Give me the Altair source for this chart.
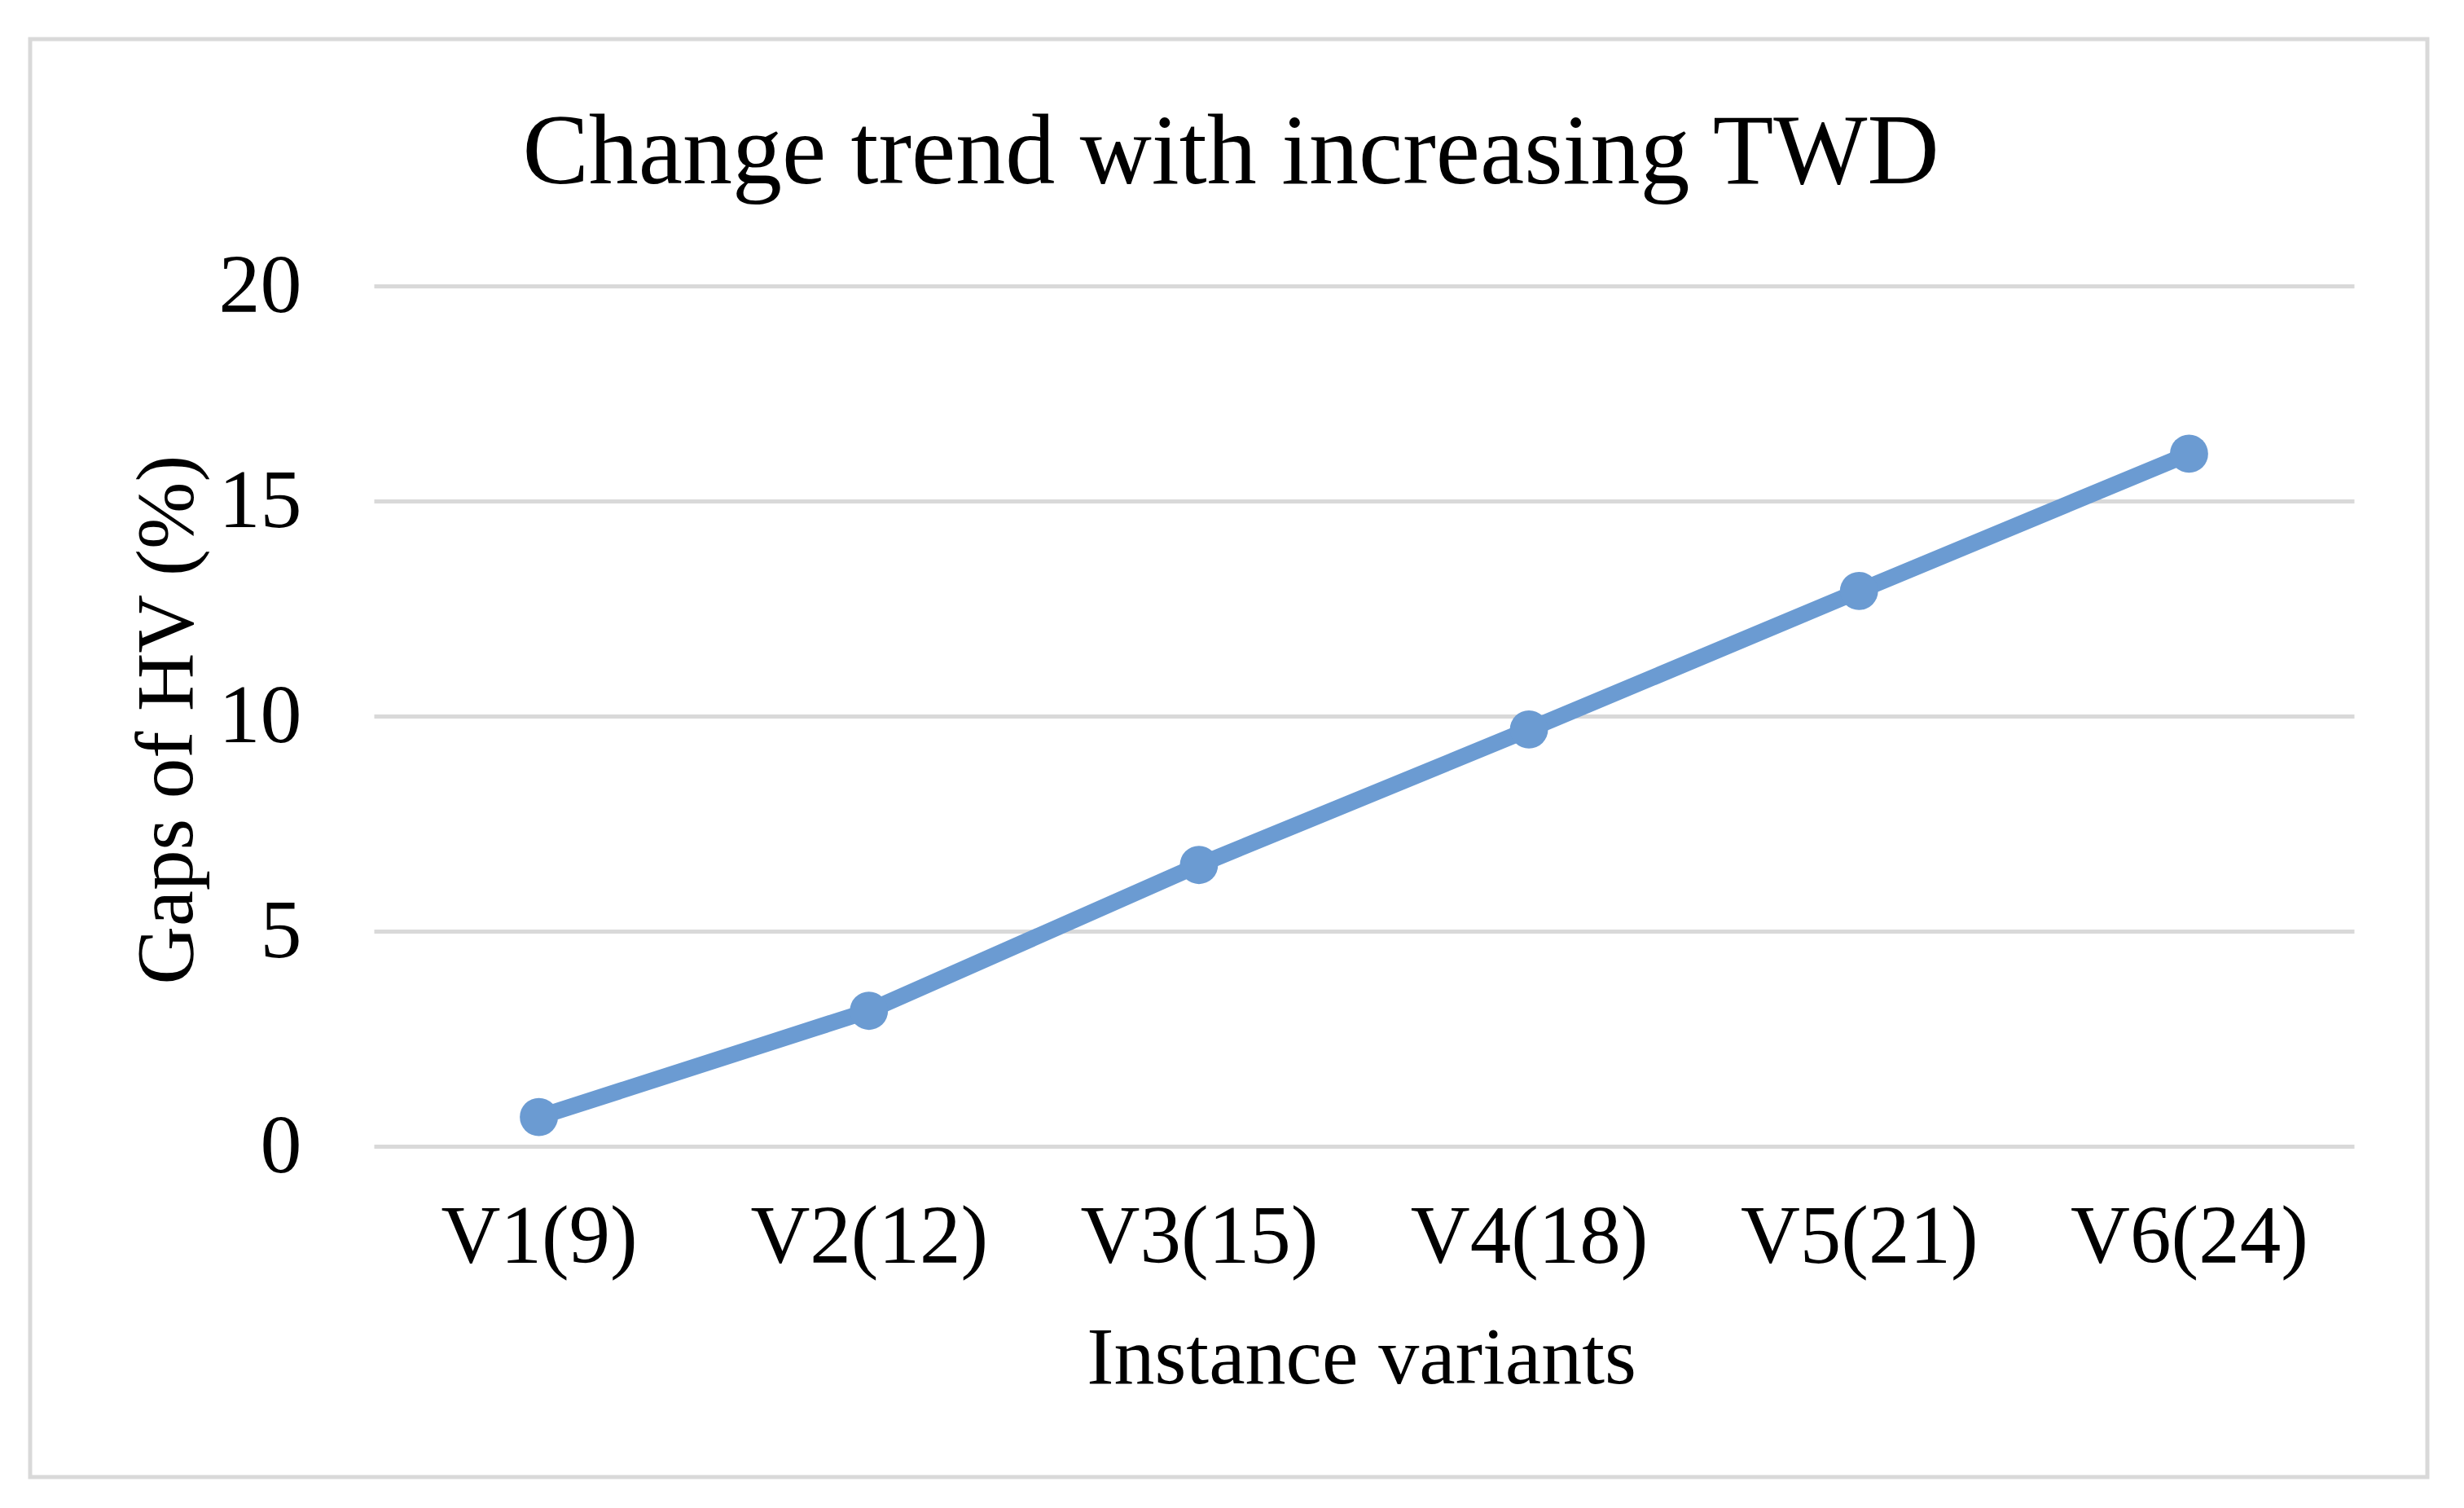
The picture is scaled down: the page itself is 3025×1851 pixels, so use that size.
import altair as alt
import pandas as pd

categories = ["V1(9)", "V2(12)", "V3(15)", "V4(18)", "V5(21)", "V6(24)"]
gaps = [0.68, 3.15, 6.54, 9.69, 12.91, 16.10]
y_ticks = [0, 5, 10, 15, 20]
title_text = ["Change trend with increasing TWD"]

df = pd.DataFrame({"variant": categories, "gap": gaps})

FONT = "Liberation Serif"
BLUE = "#6b9bd2"
GRID = "#d9d9d9"

x_enc = alt.X(
    "variant:N",
    sort=categories,
    scale=alt.Scale(type="point", padding=0.5),
    axis=alt.Axis(
        title="Instance variants",
        labelAngle=0,
        labelFont=FONT,
        labelFontSize=101,
        labelColor="#000000",
        labelBaseline="alphabetic",
        labelPadding=142,
        labelLimit=0,
        labelOverlap=False,
        ticks=False,
        tickSize=0,
        domain=False,
        grid=False,
        titleFont=FONT,
        titleFontSize=100,
        titleFontWeight="normal",
        titleColor="#000000",
        titleBaseline="alphabetic",
        titleX=1212,
        titleY=290,
        titleAlign="center",
    ),
)

y_enc = alt.Y(
    "gap:Q",
    scale=alt.Scale(domain=[0, 20], nice=False, zero=True),
    axis=alt.Axis(
        title="Gaps of HV (%)",
        values=y_ticks,
        labelFont=FONT,
        labelFontSize=102,
        labelColor="#000000",
        labelPadding=89,
        labelFlush=False,
        labelOverlap=False,
        ticks=False,
        tickSize=0,
        domain=False,
        grid=True,
        gridColor=GRID,
        gridWidth=5,
        titleFont=FONT,
        titleFontSize=99,
        titleFontWeight="normal",
        titleColor="#000000",
        titleAngle=270,
        titleBaseline="alphabetic",
        titleAlign="center",
        titleX=-224,
        titleY=532,
    ),
)

base = alt.Chart(df)

line = base.mark_line(color=BLUE, strokeWidth=20).encode(x=x_enc, y=y_enc)
points = base.mark_circle(color=BLUE, opacity=1, size=2200).encode(x=x_enc, y=y_enc)

border = alt.Chart(pd.DataFrame({"a": [0]})).mark_rect(
    fill="transparent", stroke=GRID, strokeWidth=5, clip=False
).encode(
    x=alt.value(-422), x2=alt.value(2521), y=alt.value(-303), y2=alt.value(1462)
)

title = alt.Chart(pd.DataFrame({"t": title_text})).mark_text(
    font=FONT, fontSize=122, color="#000000", align="center", baseline="alphabetic"
).encode(
    text="t:N", x=alt.value(1052), y=alt.value(-126)
)

chart = alt.layer(border, line, points, title).properties(
    width=2431,
    height=1056,
    autosize=alt.AutoSizeParams(type="none"),
    padding={"left": 451, "top": 343, "right": 100, "bottom": 420},
).configure(
    background="#ffffff",
    view=alt.ViewConfig(stroke="transparent", strokeWidth=0),
)

chart.save("out.html", embed_options={"renderer": "svg", "actions": False})
